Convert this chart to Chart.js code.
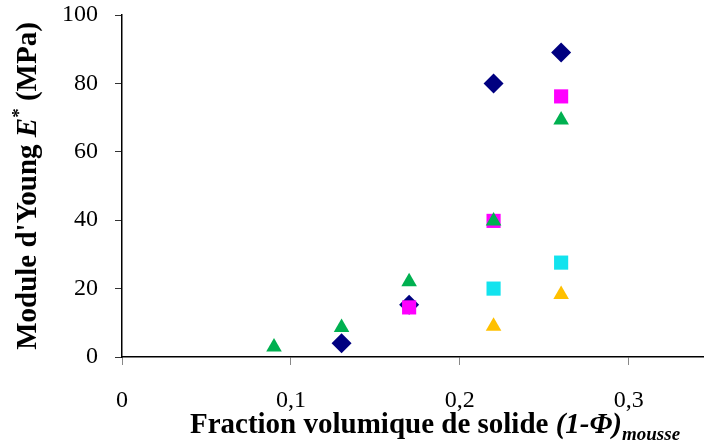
<!DOCTYPE html>
<html>
<head>
<meta charset="utf-8">
<script src="https://cdn.jsdelivr.net/npm/chart.js@4.4.0/dist/chart.umd.min.js"></script>
<style>
  html, body { margin: 0; padding: 0; background: #fff; }
  #wrap { width: 704px; height: 445px; }
</style>
</head>
<body>
<div id="wrap"><canvas id="chart" width="704" height="445"></canvas></div>
<script>
// Valeurs
const navyX = [0.13, 0.17, 0.22, 0.26];
const navyY = [4, 15.3, 80, 89];
const magentaX = [0.17, 0.22, 0.26];
const magentaY = [14.5, 39.8, 76.2];
const greenX = [0.09, 0.13, 0.17, 0.22, 0.26];
const greenY = [2.9, 8.6, 22, 39.8, 69.3];
const cyanX = [0.22, 0.26];
const cyanY = [20, 27.6];
const orangeX = [0.22, 0.26];
const orangeY = [9, 18.3];

const xTicks = [0, 0.1, 0.2, 0.3];
const yTicks = [0, 20, 40, 60, 80, 100];

function pts(xs, ys) {
    return xs.map((x, i) => ({ x: x, y: ys[i] }));
}

function serie(xs, ys, color, style, radius, order) {
    return {
        data: pts(xs, ys),
        backgroundColor: color,
        borderColor: color,
        borderWidth: 0,
        pointStyle: style,
        pointRadius: radius,
        pointHoverRadius: radius,
        order: order
    };
}

// Titres d'axes avec italique / exposant / indice
const axisTitles = {
    id: 'axisTitles',
    afterDraw(chart) {
        const ctx = chart.ctx;
        ctx.save();
        ctx.fillStyle = '#000';
        ctx.textBaseline = 'alphabetic';

        function drawParts(parts, cx, cy) {
            let total = 0;
            parts.forEach(p => { ctx.font = p.font; p.w = ctx.measureText(p.text).width; total += p.w; });
            let x = cx - total / 2;
            parts.forEach(p => {
                ctx.font = p.font;
                ctx.fillText(p.text, x, cy + (p.dy || 0));
                x += p.w;
            });
        }

        // titre Y
        ctx.save();
        ctx.translate(36, 186);
        ctx.rotate(-Math.PI / 2);
        drawParts([
            { text: "Module d'Young ", font: 'bold 29px "Liberation Serif"' },
            { text: 'E', font: 'italic bold 29px "Liberation Serif"' },
            { text: '*', font: 'bold 19px "Liberation Serif"', dy: -11 },
            { text: ' (MPa)', font: 'bold 29px "Liberation Serif"' }
        ], 0, 0);
        ctx.restore();

        // titre X
        drawParts([
            { text: 'Fraction volumique de solide ', font: 'bold 29px "Liberation Serif"' },
            { text: '(1-\u03A6)', font: 'italic bold 29px "Liberation Serif"' },
            { text: 'mousse', font: 'italic bold 19px "Liberation Serif"', dy: 7 }
        ], 435, 433);

        ctx.restore();
    }
};

const tickFont = { family: '"Liberation Serif"', size: 24 };

new Chart(document.getElementById('chart'), {
    type: 'scatter',
    data: {
        datasets: [
            serie(navyX, navyY, '#000080', 'rectRot', 10, 5),
            serie(magentaX, magentaY, '#FF00FF', 'rect', 10, 4),
            serie(greenX, greenY, '#00B050', 'triangle', 9, 3),
            serie(cyanX, cyanY, '#12E3EE', 'rect', 10, 2),
            serie(orangeX, orangeY, '#FFC000', 'triangle', 9, 1)
        ]
    },
    options: {
        responsive: false,
        animation: false,
        layout: { autoPadding: false, padding: { left: 50, right: 1, top: 15, bottom: 0 } },
        plugins: {
            legend: { display: false },
            tooltip: { enabled: false }
        },
        scales: {
            x: {
                type: 'linear',
                min: 0,
                max: 0.344,
                afterBuildTicks: s => { s.ticks = xTicks.map(v => ({ value: v })); },
                afterFit: s => { s.height = 88; s.paddingLeft = 0; s.paddingRight = 0; },
                ticks: {
                    font: tickFont,
                    color: '#000',
                    padding: 21,
                    maxRotation: 0,
                    callback: v => String(Math.round(v * 10) / 10).replace('.', ',')
                },
                grid: { drawOnChartArea: false, drawTicks: true, tickLength: 8, color: '#888' },
                border: { color: '#000', width: 1.5 }
            },
            y: {
                type: 'linear',
                min: 0,
                max: 100,
                afterBuildTicks: s => { s.ticks = yTicks.map(v => ({ value: v })); },
                afterFit: s => { s.width = 72; s.paddingTop = 0; s.paddingBottom = 0; },
                ticks: { font: tickFont, color: '#000', padding: 17 },
                grid: { drawOnChartArea: false, drawTicks: true, tickLength: 7, color: '#333' },
                border: { color: '#000', width: 1.5 }
            }
        }
    },
    plugins: [axisTitles]
});
</script>
</body>
</html>
